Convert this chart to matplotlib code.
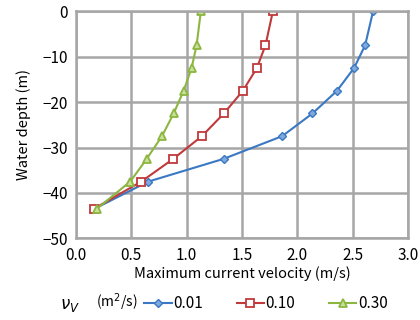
import matplotlib
matplotlib.use("Agg")
import matplotlib.pyplot as plt

plt.rcParams['font.family'] = ['Noto Sans CJK JP', 'DejaVu Sans']

# Data
depth = [0, -7.5, -12.5, -17.5, -22.5, -27.5, -32.5, -37.5, -43.5]
v_001 = [2.686, 2.614, 2.514, 2.36, 2.138, 1.864, 1.334, 0.653, 0.165]
v_010 = [1.78, 1.713, 1.635, 1.509, 1.337, 1.138, 0.879, 0.59, 0.16]
v_030 = [1.129, 1.09, 1.045, 0.973, 0.883, 0.777, 0.639, 0.49, 0.187]
labels = ["0.01", "0.10", "0.30"]
xticks = [0.0, 0.5, 1.0, 1.5, 2.0, 2.5, 3.0]
yticks = [0, -10, -20, -30, -40, -50]

fig = plt.figure(figsize=(4.2, 3.2), dpi=100)
ax = fig.add_axes([0.181, 0.255, 0.79, 0.71])

grid_c = "#a6a6a6"
l1, = ax.plot(v_001, depth, color="#3a78c3", lw=1.5, marker="D", ms=4,
              mfc="#7fa9dc", mec="#3a78c3", label=labels[0])
l2, = ax.plot(v_010, depth, color="#c0393b", lw=1.5, marker="s", ms=6,
              mfc="white", mec="#c0393b", mew=1.3, label=labels[1])
l3, = ax.plot(v_030, depth, color="#8db641", lw=1.5, marker="^", ms=6,
              mfc="#c8e09a", mec="#8db641", mew=1.3, label=labels[2])

ax.set_xlim(0, 3.0)
ax.set_ylim(-50, 0)
ax.set_xticks(xticks)
ax.set_yticks(yticks)
ax.set_xticklabels(["%.1f" % x for x in xticks])
ax.set_yticklabels(["\u2212%d" % -y if y < 0 else "0" for y in yticks])
ax.grid(True, color=grid_c, lw=1.8)
ax.set_axisbelow(True)
for s in ax.spines.values():
    s.set_color(grid_c)
    s.set_linewidth(1.8)
ax.tick_params(length=0, labelsize=11, pad=6)
ax.set_xlabel("Maximum current velocity (m/s)", fontsize=10.5, labelpad=2)
ax.set_ylabel("Water depth (m)", fontsize=10.5, labelpad=8)

fig.text(0.167, 0.045, "$\\nu_V$", fontsize=12, ha="center", va="center")
fig.text(0.277, 0.055, "(m$^2$/s)", fontsize=10, ha="center", va="center")
fig.legend(handles=[l1, l2, l3], loc="center left", bbox_to_anchor=(0.325, 0.05),
           ncol=3, frameon=False, fontsize=11, handlelength=1.8,
           handletextpad=0.1, columnspacing=2.2, borderpad=0)

fig.savefig("out.png", dpi=100)
